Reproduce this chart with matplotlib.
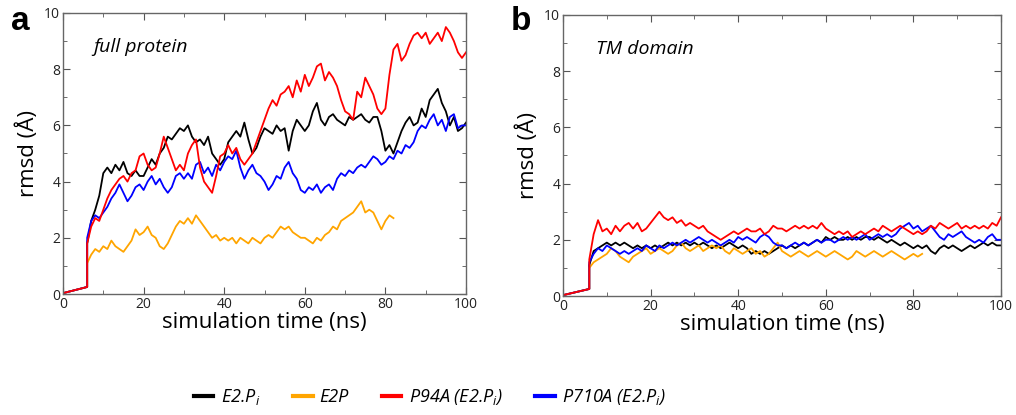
import numpy as np
import matplotlib
matplotlib.use("Agg")
import matplotlib.pyplot as plt
from matplotlib.lines import Line2D
from matplotlib.ticker import MultipleLocator

plt.rcParams['font.family'] = ['Open Sans', 'DejaVu Sans']
plt.rcParams['mathtext.fontset'] = 'custom'
plt.rcParams['mathtext.rm'] = 'Open Sans'
plt.rcParams['mathtext.it'] = 'Open Sans:italic'

# equilibration ramp shared by every run (0-6 ns)
ramp_t = [0, 6]
ramp_rmsd = [0.03, 0.25]

# production part sampled every ns from 6 ns
time_ns = np.arange(6, 101)
time_e2p = np.arange(6, 83)

# full protein rmsd (Angstrom)
full_e2pi = [1.8, 2.6, 3.0, 3.5,
             4.3, 4.5, 4.3, 4.6, 4.4, 4.7, 4.3, 4.2, 4.4, 4.2,
             4.2, 4.5, 4.8, 4.6, 5.0, 5.2, 5.6, 5.5, 5.7, 5.9,
             5.8, 6.0, 5.6, 5.4, 5.5, 5.3, 5.6, 5.0, 4.8, 4.6,
             4.8, 5.4, 5.6, 5.8, 5.6, 6.1, 5.5, 5.0, 5.2, 5.6,
             5.9, 5.8, 5.7, 6.0, 5.8, 5.9, 5.1, 5.8, 6.2, 6.0,
             5.8, 6.0, 6.5, 6.8, 6.2, 6.0, 6.3, 6.4, 6.2, 6.1,
             6.0, 6.3, 6.2, 6.3, 6.4, 6.2, 6.1, 6.3, 6.3, 5.8,
             5.1, 5.3, 5.0, 5.4, 5.8, 6.1, 6.3, 6.0, 6.1, 6.6,
             6.3, 6.9, 7.1, 7.3, 6.8, 6.5, 6.0, 6.3, 5.8, 5.9,
             6.1]
full_e2p = [1.1, 1.4, 1.6, 1.5,
            1.7, 1.6, 1.9, 1.7, 1.6, 1.5, 1.7, 1.9, 2.3, 2.1,
            2.2, 2.4, 2.1, 2.0, 1.7, 1.6, 1.8, 2.1, 2.4, 2.6,
            2.5, 2.7, 2.5, 2.8, 2.6, 2.4, 2.2, 2.0, 2.1, 1.9,
            2.0, 1.9, 2.0, 1.8, 2.0, 1.9, 1.8, 2.0, 1.9, 1.8,
            2.0, 2.1, 2.0, 2.2, 2.4, 2.3, 2.4, 2.2, 2.1, 2.0,
            2.0, 1.9, 1.8, 2.0, 1.9, 2.1, 2.2, 2.4, 2.3, 2.6,
            2.7, 2.8, 2.9, 3.1, 3.3, 2.9, 3.0, 2.9, 2.6, 2.3,
            2.6, 2.8, 2.7]
full_p94a = [1.8, 2.4, 2.7, 2.6,
             3.0, 3.4, 3.7, 3.9, 4.1, 4.2, 4.0, 4.3, 4.4, 4.9,
             5.0, 4.6, 4.4, 4.5, 5.0, 5.6, 5.2, 4.8, 4.4, 4.6,
             4.4, 5.0, 5.3, 5.5, 4.5, 4.0, 3.8, 3.6, 4.2, 4.9,
             5.0, 5.3, 5.0, 5.2, 4.8, 4.6, 4.8, 5.0, 5.4, 5.8,
             6.2, 6.6, 6.9, 6.7, 7.1, 7.2, 7.4, 7.0, 7.6, 7.2,
             7.8, 7.4, 7.7, 8.1, 8.2, 7.6, 7.9, 7.7, 7.4, 6.9,
             6.5, 6.4, 6.2, 7.2, 7.0, 7.7, 7.4, 7.1, 6.6, 6.4,
             6.6, 7.8, 8.7, 8.9, 8.3, 8.5, 8.9, 9.2, 9.3, 9.1,
             9.3, 8.9, 9.1, 9.3, 9.0, 9.5, 9.3, 9.0, 8.6, 8.4,
             8.6]
full_p710a = [2.0, 2.6, 2.8, 2.7,
              2.9, 3.1, 3.4, 3.6, 3.9, 3.6, 3.3, 3.5, 3.8, 3.9,
              3.7, 4.0, 4.2, 3.9, 4.1, 3.8, 3.6, 3.8, 4.2, 4.3,
              4.1, 4.3, 4.1, 4.6, 4.7, 4.3, 4.5, 4.2, 4.6, 4.4,
              4.7, 4.9, 4.8, 5.1, 4.5, 4.1, 4.4, 4.6, 4.3, 4.2,
              4.0, 3.7, 3.9, 4.2, 4.1, 4.5, 4.7, 4.3, 4.1, 3.7,
              3.6, 3.8, 3.7, 3.9, 3.6, 3.8, 3.9, 3.7, 4.1, 4.3,
              4.2, 4.4, 4.3, 4.5, 4.6, 4.5, 4.7, 4.9, 4.8, 4.6,
              4.7, 4.9, 4.8, 5.1, 5.0, 5.3, 5.2, 5.4, 5.8, 6.0,
              5.9, 6.2, 6.4, 6.0, 6.2, 5.8, 6.3, 6.4, 5.9, 6.0,
              6.0]

# TM domain rmsd (Angstrom)
tm_e2pi = [1.1, 1.6, 1.7, 1.8,
           1.9, 1.8, 1.9, 1.8, 1.9, 1.8, 1.7, 1.8, 1.7, 1.8,
           1.7, 1.8, 1.7, 1.8, 1.9, 1.8, 1.9, 1.8, 1.9, 1.8,
           1.9, 1.8, 1.9, 1.8, 1.7, 1.8, 1.7, 1.8, 1.9, 1.8,
           1.7, 1.8, 1.7, 1.5, 1.6, 1.5, 1.6, 1.5, 1.6, 1.7,
           1.8, 1.7, 1.8, 1.7, 1.8, 1.9, 1.8, 1.9, 2.0, 1.9,
           2.1, 2.0, 2.1, 2.0, 2.0, 2.1, 2.0, 2.1, 2.0, 2.1,
           2.1, 2.0, 2.1, 2.0, 1.9, 2.0, 1.9, 1.8, 1.9, 1.8,
           1.7, 1.8, 1.7, 1.8, 1.6, 1.5, 1.7, 1.8, 1.7, 1.8,
           1.7, 1.6, 1.7, 1.8, 1.7, 1.8, 1.9, 1.8, 1.9, 1.8,
           1.8]
tm_e2p = [1.0, 1.2, 1.3, 1.4,
          1.5, 1.7, 1.6, 1.4, 1.3, 1.2, 1.4, 1.5, 1.6, 1.7,
          1.5, 1.6, 1.7, 1.6, 1.5, 1.6, 1.8, 1.9, 1.7, 1.6,
          1.7, 1.8, 1.6, 1.7, 1.8, 1.7, 1.8, 1.6, 1.5, 1.7,
          1.6, 1.5, 1.6, 1.7, 1.5, 1.6, 1.4, 1.5, 1.7, 1.9,
          1.6, 1.5, 1.4, 1.5, 1.6, 1.5, 1.4, 1.5, 1.6, 1.5,
          1.4, 1.5, 1.6, 1.5, 1.4, 1.3, 1.4, 1.6, 1.5, 1.4,
          1.5, 1.6, 1.5, 1.4, 1.5, 1.6, 1.5, 1.4, 1.3, 1.4,
          1.5, 1.4, 1.5]
tm_p94a = [1.3, 2.2, 2.7, 2.3,
           2.4, 2.2, 2.5, 2.3, 2.5, 2.6, 2.4, 2.6, 2.3, 2.4,
           2.6, 2.8, 3.0, 2.8, 2.7, 2.8, 2.6, 2.7, 2.5, 2.6,
           2.5, 2.4, 2.5, 2.3, 2.2, 2.1, 2.0, 2.1, 2.2, 2.3,
           2.2, 2.3, 2.4, 2.3, 2.3, 2.4, 2.2, 2.3, 2.5, 2.4,
           2.4, 2.3, 2.4, 2.5, 2.4, 2.5, 2.4, 2.5, 2.4, 2.6,
           2.4, 2.3, 2.2, 2.3, 2.2, 2.3, 2.1, 2.2, 2.3, 2.2,
           2.3, 2.4, 2.3, 2.5, 2.4, 2.3, 2.4, 2.5, 2.4, 2.3,
           2.2, 2.3, 2.2, 2.3, 2.5, 2.4, 2.6, 2.5, 2.4, 2.5,
           2.6, 2.4, 2.5, 2.4, 2.5, 2.4, 2.5, 2.4, 2.6, 2.5,
           2.8]
tm_p710a = [1.2, 1.5, 1.7, 1.6,
            1.8, 1.7, 1.6, 1.5, 1.6, 1.5, 1.6, 1.7, 1.6, 1.8,
            1.7, 1.6, 1.8, 1.7, 1.8, 1.9, 1.8, 1.9, 2.0, 1.9,
            2.0, 2.1, 2.0, 1.9, 2.0, 1.9, 1.8, 1.9, 2.0, 1.9,
            2.1, 2.0, 2.1, 2.0, 1.9, 2.1, 2.2, 2.1, 1.9, 1.8,
            1.8, 1.7, 1.8, 1.9, 1.8, 1.9, 1.8, 1.9, 2.0, 1.9,
            2.0, 2.0, 1.9, 2.0, 2.1, 2.0, 2.1, 2.0, 2.1, 2.2,
            2.0, 2.1, 2.2, 2.1, 2.2, 2.1, 2.2, 2.4, 2.5, 2.6,
            2.4, 2.5, 2.3, 2.4, 2.5, 2.3, 2.1, 2.0, 2.2, 2.1,
            2.2, 2.3, 2.1, 2.0, 1.9, 2.0, 1.9, 2.1, 2.2, 2.0,
            2.0]

labels = [r'E2.P$_i$', 'E2P', r'P94A (E2.P$_i$)', r'P710A (E2.P$_i$)']
colors = ['black', '#ffa500', '#ff0000', '#0000ff']


def trace(t, vals):
    return np.concatenate([ramp_t, t]), np.concatenate([ramp_rmsd, vals])


fig = plt.figure(figsize=(10.16, 4.15), dpi=100)
ax_a = fig.add_axes([63/1016, 1-294/415, 403/1016, 281/415])
ax_b = fig.add_axes([563/1016, 1-296/415, 438/1016, 281/415])

panels = [
    (ax_a, [full_e2pi, full_e2p, full_p94a, full_p710a], 'full protein'),
    (ax_b, [tm_e2pi, tm_e2p, tm_p94a, tm_p710a], 'TM domain'),
]

for ax, series, title in panels:
    # draw order: black, orange, blue, red
    for i in [0, 1, 3, 2]:
        t = time_e2p if i == 1 else time_ns
        x, y = trace(t, series[i])
        ax.plot(x, y, color=colors[i], lw=1.3)
    ax.set_xlim(0, 100)
    ax.set_ylim(0, 10)
    ax.xaxis.set_major_locator(MultipleLocator(20))
    ax.xaxis.set_minor_locator(MultipleLocator(10))
    ax.yaxis.set_major_locator(MultipleLocator(2))
    ax.yaxis.set_minor_locator(MultipleLocator(1))
    ax.tick_params(which='both', direction='in', top=True, right=True,
                   color='#555555', labelsize=10, labelcolor='#222222', pad=2)
    ax.tick_params(which='major', length=5)
    ax.tick_params(which='minor', length=3)
    for s in ax.spines.values():
        s.set_color('#666666')
        s.set_linewidth(1.0)
    ax.set_xlabel('simulation time (ns)', fontsize=16, labelpad=0)
    ax.set_ylabel('rmsd (Å)', fontsize=16, labelpad=4)
    ax.text(7.6, 8.8, title, fontsize=14, style='italic', ha='left', va='center')

fig.text(20/1016, 1-22/415, 'a', fontsize=24, fontweight='bold',
         family='Liberation Sans', ha='center', va='center')
fig.text(521/1016, 1-22/415, 'b', fontsize=24, fontweight='bold',
         family='Liberation Sans', ha='center', va='center')

handles = [Line2D([], [], color=c, lw=3) for c in colors]
leg = fig.legend(handles, labels, loc='center', ncol=4,
                 bbox_to_anchor=(430/1016, 1-397/415), frameon=False,
                 prop={'size': 13, 'style': 'italic'}, handlelength=1.1,
                 handletextpad=0.4, columnspacing=1.8)

fig.savefig('out.png', dpi=100)
